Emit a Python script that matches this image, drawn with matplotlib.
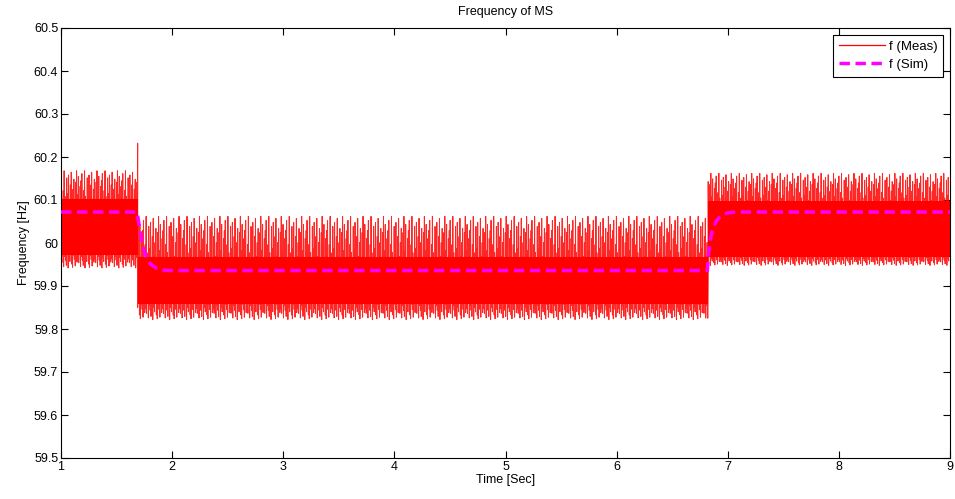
import numpy as np
import matplotlib
matplotlib.use("Agg")
import matplotlib.pyplot as plt
from matplotlib.lines import Line2D

plt.rcParams["font.family"] = ["Liberation Sans", "DejaVu Sans"]

# measured signal, read per segment (Hz)
seg_edges = [1.0, 1.69, 6.82, 9.0]
core_lo = [59.972, 59.858, 59.968]
core_hi = [60.102, 59.968, 60.098]
spike_hi = [60.168, 60.062, 60.162]
spike_lo = [59.942, 59.822, 59.948]
sample_step = 0.008
top_pattern = [0.9, -0.2, 0.3, 1.0, 0.1, -0.3, 0.75, 0.2, 0.85, -0.1, 0.5, 0.95,
               0.0, 0.35, 0.7, -0.25, 0.6, 1.0, 0.15, 0.8, -0.15, 0.45, 0.65]
bot_pattern = [0.6, -0.2, 0.9, 0.1, 0.4, 0.8, -0.3, 1.0, 0.2, 0.5, -0.1,
               0.7, 0.95, 0.0, 0.35, 0.85, -0.2, 0.55, 0.3]
step_spike_t = [1.69, 6.82]
step_spike_hi = [60.232, 59.97]
step_spike_lo = [59.85, 59.825]

# simulated signal
sim_t = [1.0, 1.685, 1.71, 1.735, 1.755, 1.78, 1.80, 1.83, 1.865, 1.92, 1.98,
         6.817, 6.826, 6.838, 6.855, 6.874, 6.895, 6.919, 6.96, 7.0, 7.09, 9.0]
sim_f = [60.072, 60.072, 60.03, 59.995, 59.976, 59.962, 59.953, 59.946, 59.941, 59.937, 59.936,
         59.936, 59.97, 60.0, 60.022, 60.038, 60.05, 60.058, 60.066, 60.07, 60.072, 60.072]

fig = plt.figure(figsize=(9.55, 4.99), dpi=100)
ax = fig.add_axes([61 / 955, 1 - 458 / 499, (950 - 61) / 955, (458 - 28) / 499])

red = "#ff0000"
mx = []
my = []
k = 0
for i in range(len(seg_edges) - 1):
    t = seg_edges[i] + 0.004
    while t < seg_edges[i + 1] - 0.004:
        a = top_pattern[k % len(top_pattern)]
        b = bot_pattern[k % len(bot_pattern)]
        mx += [t, t + sample_step / 2]
        my += [core_hi[i] + a * (spike_hi[i] - core_hi[i]),
               core_lo[i] - b * (core_lo[i] - spike_lo[i])]
        t += sample_step
        k += 1
    if i < len(step_spike_t):
        mx += [step_spike_t[i], step_spike_t[i]]
        my += [step_spike_hi[i], step_spike_lo[i]]

ax.plot(mx, my, color=red, lw=0.7, alpha=0.85, zorder=2)
ax.fill_between(seg_edges, core_lo + [core_lo[-1]], core_hi + [core_hi[-1]],
                step="post", color=red, lw=0, zorder=2)
ax.plot(sim_t, sim_f, color="#ff00ff", lw=2.5, ls=(0, (3, 1.6)), zorder=3)

ax.set_xlim(1, 9)
ax.set_ylim(59.5, 60.5)
ax.set_xticks(range(1, 10))
ax.set_yticks(np.arange(59.5, 60.51, 0.1))
ax.set_yticklabels(["59.5", "59.6", "59.7", "59.8", "59.9", "60", "60.1", "60.2", "60.3", "60.4", "60.5"])
ax.tick_params(direction="in", top=True, right=True, labelsize=9, length=5, width=0.8, pad=2)
for s in ax.spines.values():
    s.set_linewidth(0.8)
ax.set_title("Frequency of MS", fontsize=9, pad=9)
ax.set_xlabel("Time [Sec]", fontsize=9, labelpad=1)
ax.set_ylabel("Frequency [Hz]", fontsize=9, labelpad=3)

handles = [Line2D([], [], color=red, lw=0.9),
           Line2D([], [], color="#ff00ff", lw=2.5, ls=(0, (3, 1.6)))]
leg = ax.legend(handles, ["f (Meas)", "f (Sim)"], loc="upper right", fontsize=9.5,
                fancybox=False, framealpha=1, edgecolor="black", handlelength=3.5,
                handletextpad=0.3, borderaxespad=0.5, labelspacing=0.45, borderpad=0.45)
leg.get_frame().set_linewidth(0.8)

fig.savefig("out.png", dpi=100)
